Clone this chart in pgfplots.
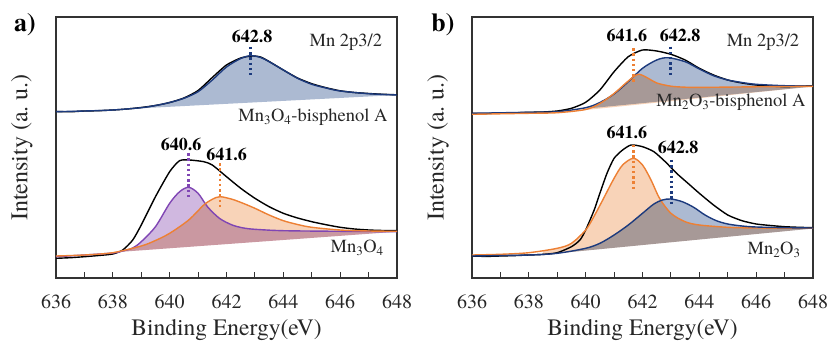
\documentclass[border=0pt]{standalone}
\usepackage{fontspec}
\IfFontExistsTF{texgyretermes-regular.otf}
  {\setmainfont{texgyretermes}[Extension=.otf, UprightFont=*-regular, BoldFont=*-bold, ItalicFont=*-italic, BoldItalicFont=*-bolditalic]}
  {\setmainfont{Liberation Serif}}
\usepackage{pgfplots}
\usepackage{pgfplotstable}
\pgfplotsset{compat=1.18}
\usepgfplotslibrary{fillbetween}
\definecolor{purpL}{RGB}{128,70,180}
\definecolor{purpF}{RGB}{208,184,224}
\definecolor{oranL}{RGB}{237,128,52}
\definecolor{oranF}{RGB}{248,211,184}
\definecolor{blueL}{RGB}{28,58,125}
\definecolor{blueF}{RGB}{172,186,210}
% ---- panel a, top (Mn3O4-bisphenol A)
\pgfplotstableread{
x y
636 166.5
636.5 166.2
637 167
637.5 167.3
638 168
638.5 169
639 170.5
639.5 172.5
640 175.5
640.5 180
641 187.5
641.5 200.5
642 213
642.5 220
642.9 222
643.2 221
643.5 216.5
644 208
644.5 200
645 194.3
645.5 190.3
646 187.2
646.5 185.5
647 184.5
647.5 183.7
648 183.2
}\aTopRaw
\pgfplotstableread{
x y
636 166.3
637 167
638 168
639 170.3
639.5 172.5
640 175.5
640.5 179.7
641 186.3
641.5 198
642 211
642.5 219.5
642.85 222.3
643.2 220.5
643.5 216.3
644 208
644.5 199.7
645 193.7
645.5 190
646 187
647 184.3
648 183
}\aTopFit
% ---- panel a, bottom (Mn3O4)
\pgfplotstableread{
x y
636 19.7
636.5 20.3
637 21.3
637.5 22.5
638 24
638.35 28
638.7 38
639 53
639.5 81.3
640 106.3
640.35 117.3
640.7 118
641.2 116.3
641.5 113
642 101.3
642.5 89.7
643 79.7
643.5 71.3
644 64.7
644.5 60
645 56.3
645.5 53.3
646 50.7
646.5 49
647 48
647.5 47.5
648 47.3
}\aBotRaw
\pgfplotstableread{
x y
636 21.3
637 23
638 25
638.35 27
638.7 30
639 36.3
639.5 51.3
640 74.7
640.35 86.3
640.67 90.7
641 84.7
641.33 71.3
641.75 59.7
642.2 53
642.6 50
643 48.7
644 47.3
646 46.7
648 46.3
}\aBotPurple
\pgfplotstableread{
x y
636 22
637 23
638 25.3
639 32
639.5 37.5
640 44.7
640.67 58
641.2 73
641.5 78.7
641.77 81.3
642.2 78.7
642.6 74.5
643 69.7
643.5 63
644 57.3
644.5 53.5
645 50.7
646 48
647 47
648 46.7
}\aBotOrange
% ---- panel b, top (Mn2O3-bisphenol A)
\pgfplotstableread{
x y
636 164.7
636.5 164.4
637 165.2
637.5 165.2
638 165.7
638.5 166
639 167
639.5 169.7
640 175.7
640.5 188
641 206.3
641.5 221.3
642 228
642.5 227
643 223.7
643.5 218
644 209.7
644.5 203
645 198
645.5 195
646 193
646.5 192
647 191.3
647.5 191.8
648 192.3
}\bTopRaw
\pgfplotstableread{
x y
636 164.7
637 165.2
638 165.7
639 166.3
640 170.3
640.5 175.5
641 184
641.5 196.3
642 209.7
642.5 218
642.9 220.3
643.5 216.3
644 209
644.5 202.3
645 198
645.5 195.5
646 193.7
647 192.3
648 192
}\bTopBlue
\pgfplotstableread{
x y
636 163.7
637 164.2
638 164.7
639 165.3
640 168.5
640.5 174.5
641 184.5
641.5 197
641.85 203.7
642.2 199.7
642.5 195
643 191.8
643.5 190.8
644 190.6
646 191.2
648 191.7
}\bTopOrange
% ---- panel b, bottom (Mn2O3)
\pgfplotstableread{
x y
636 22
636.5 21.6
637 22
637.5 22.4
638 23
638.5 23.6
639 25.3
639.5 31.3
639.8 38
640 48
640.3 68
640.5 84.7
640.75 104.7
641 119.7
641.3 128
641.6 133
642 131.3
642.4 126.3
642.8 116.3
643.2 104.7
643.6 94.7
644 84.7
644.5 73
645 63
645.5 57.3
646 54
646.5 52.5
647 51.3
647.5 50.7
648 50.3
}\bBotRaw
\pgfplotstableread{
x y
636 23
637 23.7
638 25.3
639 29.7
639.5 34.7
640 48
640.3 62
640.6 78
641 99.7
641.3 113
641.68 119.7
642 113
642.3 98
642.6 79.7
643 64.7
643.5 56.3
644 53
645 50.7
646 50
648 49.7
}\bBotOrange
\pgfplotstableread{
x y
636 22
638 23
639 24.7
640 29.7
640.5 34.7
641 43
641.5 53
642 64.7
642.4 74
642.7 78
643 79
643.4 76.3
643.8 70.7
644.2 63
644.6 57.3
645 54
645.5 52
646 51
647 50.3
648 50
}\bBotBlue
\tikzset{
  fitline/.style={line width=1.4bp, smooth},
  rawline/.style={line width=1.4bp, black, smooth, tension=0.4},
  dotline/.style={line width=2.8bp, dash pattern=on 2.4bp off 2.8bp},
  smp/.style={font=\fontsize{18.5bp}{22bp}\selectfont, text=black!85},
  pk/.style={font=\bfseries\fontsize{18bp}{22bp}\selectfont},
  tl/.style={font=\fontsize{20bp}{24bp}\selectfont, text=black!85, anchor=center, inner sep=0pt, yshift=-24bp},
  axl/.style={font=\fontsize{23.5bp}{28bp}\selectfont, text=black!85, anchor=center, inner sep=0pt},
}
\pgfplotsset{xpsaxis/.style={
  width=341bp, height=261bp, scale only axis,
  xmin=636, xmax=648, ymin=0, ymax=261,
  xtick={636,638,...,648}, minor x tick num=1, xticklabels={},
  ytick=\empty, xtick pos=bottom, tick align=inside,
  major tick length=6bp, minor tick length=6bp,
  axis line style={line width=1.2bp, black!80},
  every tick/.style={line width=1bp, black!80},
  clip=false,
}}
\newcommand\axistext{%
  \node[tl] at (axis cs:636,0) {636};
  \node[tl] at (axis cs:638,0) {638};
  \node[tl] at (axis cs:640,0) {640};
  \node[tl] at (axis cs:642,0) {642};
  \node[tl] at (axis cs:644,0) {644};
  \node[tl] at (axis cs:646,0) {646};
  \node[tl] at (axis cs:648,0) {648};
  \node[axl] at (axis description cs:0.5,-0.199) {Binding Energy(eV)};
  \node[axl, rotate=90, font=\fontsize{24bp}{28bp}\selectfont] at (axis description cs:-0.0997,0.5) {Intensity (a.~u.)};
}
\begin{document}
\begin{tikzpicture}
\path (0,0) rectangle (831bp,345bp);
% ---------------- panel a ----------------
\begin{axis}[xpsaxis, at={(56bp,67bp)}, anchor=south west]
\addplot[draw=none, name path=bgat] coordinates {(638.5,169) (648,183)};
\addplot[draw=none, name path=bgab] coordinates {(638,25.6) (648,46.3)};
\addplot[draw=none, smooth, name path=fat] table {\aTopFit};
\addplot[draw=none, smooth, name path=pab] table {\aBotPurple};
\addplot[draw=none, smooth, name path=oab] table {\aBotOrange};
\addplot[fill=blueF, blend mode=multiply] fill between[of=fat and bgat, soft clip={domain=638.5:648}];
\addplot[fill=purpF, blend mode=multiply] fill between[of=pab and bgab, soft clip={domain=638:648}];
\addplot[fill=oranF, blend mode=multiply] fill between[of=oab and bgab, soft clip={domain=638:648}];
\addplot[rawline] table {\aTopRaw};
\addplot[fitline, blueL] table {\aTopFit};
\addplot[rawline] table {\aBotRaw};
\addplot[fitline, purpL] table {\aBotPurple};
\addplot[fitline, oranL] table {\aBotOrange};
\addplot[dotline, blueL] coordinates {(642.85,231)(642.85,203)};
\addplot[dotline, purpL] coordinates {(640.67,124.7)(640.67,80)};
\addplot[dotline, oranL] coordinates {(641.77,114.7)(641.77,70)};
\node[pk] at (axis cs:642.9,242) {642.8};
\node[smp] at (axis cs:646.2,236) {Mn 2p3/2};
\node[smp] at (axis cs:645.04,161) {Mn\textsubscript{3}O\textsubscript{4}-bisphenol A};
\node[pk] at (axis cs:640.4,134) {640.6};
\node[pk] at (axis cs:642.0,124) {641.6};
\node[smp] at (axis cs:646.6,30) {Mn\textsubscript{3}O\textsubscript{4}};
\node[font=\bfseries\fontsize{26bp}{30bp}\selectfont] at (axis description cs:-0.091,0.969) {a)};
\axistext
\end{axis}
% ---------------- panel b ----------------
\begin{axis}[xpsaxis, at={(472bp,67bp)}, anchor=south west]
\addplot[draw=none, name path=bgbt, smooth] coordinates {(639.5,165.8)(640,167)(640.5,171)(641,178.5)(641.5,185)(642,188)(643,189.5)(644,190.3)(646,191)(648,191.5)};
\addplot[draw=none, name path=bgbb] coordinates {(638.5,23.3) (648,49.5)};
\addplot[draw=none, smooth, name path=bbt] table {\bTopBlue};
\addplot[draw=none, smooth, name path=obt] table {\bTopOrange};
\addplot[draw=none, smooth, name path=obb] table {\bBotOrange};
\addplot[draw=none, smooth, name path=bbb] table {\bBotBlue};
\addplot[fill=blueF, blend mode=multiply] fill between[of=bbt and bgbt, soft clip={domain=639.5:648}];
\addplot[fill=oranF, blend mode=multiply] fill between[of=obt and bgbt, soft clip={domain=639.5:648}];
\addplot[fill=oranF, blend mode=multiply] fill between[of=obb and bgbb, soft clip={domain=638.5:648}];
\addplot[fill=blueF, blend mode=multiply] fill between[of=bbb and bgbb, soft clip={domain=638.5:648}];
\addplot[rawline] table {\bTopRaw};
\addplot[fitline, blueL] table {\bTopBlue};
\addplot[fitline, oranL] table {\bTopOrange};
\addplot[rawline] table {\bBotRaw};
\addplot[fitline, oranL] table {\bBotOrange};
\addplot[fitline, blueL] table {\bBotBlue};
\addplot[dotline, oranL] coordinates {(641.69,229.7)(641.69,196.3)};
\addplot[dotline, blueL] coordinates {(642.98,231.3)(642.98,203)};
\addplot[dotline, oranL] coordinates {(641.68,133)(641.68,88)};
\addplot[dotline, blueL] coordinates {(643.01,118)(643.01,71.3)};
\node[pk] at (axis cs:641.45,243) {641.6};
\node[pk] at (axis cs:643.32,243) {642.8};
\node[smp] at (axis cs:646.24,236) {Mn 2p3/2};
\node[smp] at (axis cs:645.11,176) {Mn\textsubscript{2}O\textsubscript{3}-bisphenol A};
\node[pk] at (axis cs:641.45,146) {641.6};
\node[pk] at (axis cs:643.25,131) {642.8};
\node[smp] at (axis cs:646.63,28) {Mn\textsubscript{2}O\textsubscript{3}};
\node[font=\bfseries\fontsize{26bp}{30bp}\selectfont] at (axis description cs:-0.085,0.969) {b)};
\axistext
\end{axis}
\end{tikzpicture}
\end{document}
